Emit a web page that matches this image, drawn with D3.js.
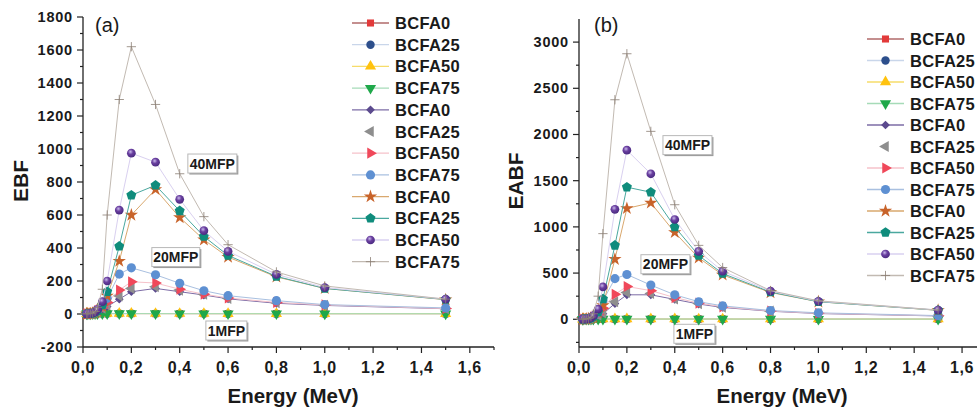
<!DOCTYPE html>
<html>
<head>
<meta charset="utf-8">
<script src="https://cdn.jsdelivr.net/npm/d3@7"></script>
<style>
  body { margin: 0; background: #fff; }
  svg { display: block; font-family: Arial, "Liberation Sans", sans-serif; }
</style>
</head>
<body>
<svg id="chart" width="977" height="412"></svg>
<script>
// photon energies (MeV)
const energy = [0.015, 0.02, 0.03, 0.04, 0.05, 0.06, 0.08, 0.1, 0.15, 0.2, 0.3, 0.4, 0.5, 0.6, 0.8, 1.0, 1.5]

const seriesNames = ['BCFA0', 'BCFA25', 'BCFA50', 'BCFA75',
  'BCFA0', 'BCFA25', 'BCFA50', 'BCFA75',
  'BCFA0', 'BCFA25', 'BCFA50', 'BCFA75']

// (a) EBF
const ebf1mfp0  = [1.2, 1.3, 1.5, 1.8, 2.0, 2.2, 2.4, 2.5, 2.5, 2.4, 2.3, 2.2, 2.1, 2.0, 1.9, 1.9, 1.8]
const ebf1mfp25 = [1.2, 1.3, 1.6, 1.9, 2.1, 2.3, 2.5, 2.6, 2.6, 2.5, 2.4, 2.3, 2.2, 2.1, 2.0, 1.9, 1.8]
const ebf1mfp50 = [1.2, 1.3, 1.6, 1.9, 2.2, 2.4, 2.6, 2.7, 2.7, 2.6, 2.4, 2.3, 2.2, 2.1, 2.0, 1.9, 1.8]
const ebf1mfp75 = [1.2, 1.4, 1.7, 2.0, 2.3, 2.5, 2.7, 2.8, 2.8, 2.7, 2.5, 2.4, 2.3, 2.2, 2.0, 1.9, 1.8]
const ebf20mfp0  = [1.1, 1.3, 2, 4, 8, 15, 30, 45, 90, 135, 155, 135, 115, 92, 65, 52, 32]
const ebf20mfp25 = [1.1, 1.3, 2, 4, 9, 17, 35, 55, 110, 155, 165, 145, 120, 95, 68, 52, 32]
const ebf20mfp50 = [1.1, 1.3, 2, 5, 10, 20, 40, 70, 145, 195, 188, 150, 120, 97, 70, 55, 33]
const ebf20mfp75 = [1.1, 1.4, 2, 5, 11, 22, 50, 95, 242, 280, 238, 186, 141, 111, 81, 57, 37]
const ebf40mfp0  = [1.1, 1.3, 2, 4, 9, 18, 45, 110, 320, 600, 755, 585, 450, 345, 225, 155, 87]
const ebf40mfp25 = [1.1, 1.3, 2, 5, 10, 20, 55, 135, 410, 720, 780, 625, 470, 355, 228, 155, 88]
const ebf40mfp50 = [1.1, 1.4, 3, 6, 12, 28, 75, 200, 630, 975, 920, 695, 505, 380, 240, 160, 90]
const ebf40mfp75 = [1.2, 1.5, 3, 7, 15, 40, 150, 600, 1300, 1620, 1270, 850, 590, 420, 255, 170, 90]

// (b) EABF
const eabf1mfp0  = [1.1, 1.2, 1.4, 1.6, 1.8, 2.0, 2.2, 2.4, 2.5, 2.4, 2.3, 2.2, 2.1, 2.0, 1.9, 1.8, 1.7]
const eabf1mfp25 = [1.1, 1.2, 1.5, 1.7, 1.9, 2.1, 2.3, 2.5, 2.6, 2.5, 2.4, 2.3, 2.2, 2.1, 1.9, 1.8, 1.7]
const eabf1mfp50 = [1.1, 1.3, 1.5, 1.8, 2.0, 2.2, 2.4, 2.6, 2.7, 2.6, 2.4, 2.3, 2.2, 2.1, 2.0, 1.9, 1.7]
const eabf1mfp75 = [1.1, 1.3, 1.6, 1.9, 2.1, 2.3, 2.5, 2.7, 2.8, 2.7, 2.5, 2.4, 2.3, 2.2, 2.0, 1.9, 1.8]
const eabf20mfp0  = [1.1, 1.3, 2, 5, 10, 20, 40, 60, 170, 265, 265, 215, 165, 128, 87, 62, 36]
const eabf20mfp25 = [1.1, 1.3, 2, 5, 11, 22, 45, 70, 190, 290, 280, 220, 170, 130, 88, 63, 37]
const eabf20mfp50 = [1.1, 1.4, 2, 6, 12, 25, 55, 120, 270, 355, 310, 235, 175, 135, 90, 65, 38]
const eabf20mfp75 = [1.1, 1.4, 3, 6, 13, 28, 70, 200, 440, 485, 370, 265, 190, 145, 95, 70, 40]
const eabf40mfp0  = [1.1, 1.3, 2, 5, 12, 25, 70, 150, 650, 1200, 1260, 940, 665, 480, 290, 190, 97]
const eabf40mfp25 = [1.1, 1.4, 3, 6, 14, 30, 80, 220, 800, 1430, 1375, 1000, 690, 495, 295, 190, 98]
const eabf40mfp50 = [1.2, 1.5, 3, 8, 18, 40, 110, 350, 1190, 1830, 1575, 1080, 735, 520, 305, 195, 100]
const eabf40mfp75 = [1.2, 1.6, 4, 10, 25, 60, 250, 927, 2376, 2874, 2034, 1240, 800, 560, 310, 200, 100]

const groupLabels = ['40MFP', '20MFP', '1MFP']

const markerFill = ['#e23a3a', '#2d4f8c', '#ffc20e', '#1fa84a', '#5b4a8e', '#8e8e8e',
  '#f0485a', '#5e90d2', '#c8632a', '#0f8c7c', '#6a3fa0', '#a09488']
const lineColor = ['#b06a6a', '#c9d6ea', '#f6dc6a', '#a6dbb8', '#7d6ca6', 'none',
  '#f6c2ca', '#a9c0e0', '#d9a86e', '#4aa89f', '#d9d0f0', '#c2bab2']

const symbolPentagon = {
  draw(ctx, size) {
    const r = Math.sqrt(size / 2.378)
    for (let i = 0; i < 5; i++) {
      const a = -Math.PI / 2 + i * 2 * Math.PI / 5
      if (i === 0) ctx.moveTo(r * Math.cos(a), r * Math.sin(a))
      else ctx.lineTo(r * Math.cos(a), r * Math.sin(a))
    }
    ctx.closePath()
  }
}

// symbol type, size, rotation
const markers = [
  [d3.symbolSquare, 50, 0],
  [d3.symbolCircle, 56, 0],
  [d3.symbolTriangle, 54, 0],
  [d3.symbolTriangle, 54, 180],
  [d3.symbolSquare, 38, 45],
  [d3.symbolTriangle, 54, -90],
  [d3.symbolTriangle, 54, 90],
  [d3.symbolCircle, 66, 0],
  [d3.symbolStar, 55, 0],
  [symbolPentagon, 66, 0],
  [d3.symbolCircle, 60, 0],
  [d3.symbolPlus, 30, 0],
]

const svg = d3.select('#chart')
const defs = svg.append('defs')
const grad = defs.append('radialGradient').attr('id', 'sphere')
  .attr('cx', '40%').attr('cy', '35%').attr('r', '65%')
grad.append('stop').attr('offset', '0%').attr('stop-color', '#c8b8ea')
grad.append('stop').attr('offset', '45%').attr('stop-color', '#6a3fa0')
grad.append('stop').attr('offset', '100%').attr('stop-color', '#4a2a80')

function drawMarker(g, i, x, y) {
  const [type, size, rot] = markers[i]
  const p = g.append('path')
    .attr('d', d3.symbol().type(type).size(size)())
    .attr('transform', `translate(${x},${y}) rotate(${rot})`)
  if (i === 11) {
    p.attr('fill', 'none').attr('stroke', '#8a7e74').attr('stroke-width', 0.8)
  } else if (i === 10) {
    p.attr('fill', 'url(#sphere)')
  } else {
    p.attr('fill', markerFill[i])
  }
}

function drawPanel(cfg) {
  const x = d3.scaleLinear().domain([0, 1.7]).range(cfg.xRange)
  const y = d3.scaleLinear().domain(cfg.yDomain).range([347, cfg.yTop])
  const g = svg.append('g')

  // axes
  g.append('line').attr('x1', cfg.xRange[0]).attr('x2', cfg.xRange[1])
    .attr('y1', 347).attr('y2', 347).attr('stroke', '#222').attr('stroke-width', 1.3)
  g.append('line').attr('x1', cfg.xRange[0]).attr('x2', cfg.xRange[0])
    .attr('y1', 347).attr('y2', cfg.yTop).attr('stroke', '#222').attr('stroke-width', 1.3)

  const xMajor = d3.range(0, 1.61, 0.2)
  const xMinor = d3.range(0.1, 1.71, 0.2)
  g.selectAll(null).data(xMajor).enter().append('line')
    .attr('x1', d => x(d)).attr('x2', d => x(d)).attr('y1', 347).attr('y2', 353)
    .attr('stroke', '#222').attr('stroke-width', 1.2)
  g.selectAll(null).data(xMinor).enter().append('line')
    .attr('x1', d => x(d)).attr('x2', d => x(d)).attr('y1', 347).attr('y2', 350)
    .attr('stroke', '#222').attr('stroke-width', 1.2)
  g.selectAll(null).data(xMajor).enter().append('text')
    .attr('x', d => x(d)).attr('y', 373).attr('text-anchor', 'middle')
    .attr('font-size', 16).attr('font-weight', 'bold').attr('letter-spacing', 0.6).attr('fill', '#1a1a1a')
    .text(d => d3.format('.1f')(d).replace('.', ','))

  const yStart = Math.ceil(cfg.yDomain[0] / cfg.yStep) * cfg.yStep
  const yMajor = d3.range(yStart, cfg.yMax + 1, cfg.yStep)
  const yMinor = d3.range(yStart - cfg.yStep / 2, cfg.yDomain[1], cfg.yStep)
    .filter(d => d >= cfg.yDomain[0])
  g.selectAll(null).data(yMajor).enter().append('line')
    .attr('x1', cfg.xRange[0] - 6).attr('x2', cfg.xRange[0]).attr('y1', d => y(d)).attr('y2', d => y(d))
    .attr('stroke', '#222').attr('stroke-width', 1.2)
  g.selectAll(null).data(yMinor).enter().append('line')
    .attr('x1', cfg.xRange[0] - 3).attr('x2', cfg.xRange[0]).attr('y1', d => y(d)).attr('y2', d => y(d))
    .attr('stroke', '#222').attr('stroke-width', 1.2)
  g.selectAll(null).data(yMajor).enter().append('text')
    .attr('x', cfg.xRange[0] - 10).attr('y', d => y(d) + 5).attr('text-anchor', 'end')
    .attr('font-size', 14.5).attr('font-weight', 'bold').attr('letter-spacing', 0.8).attr('fill', '#1a1a1a')
    .text(d => d)

  // titles
  g.append('text').attr('transform', `translate(${cfg.yTitleX},181) rotate(-90)`)
    .attr('text-anchor', 'middle').attr('font-size', 21).attr('font-weight', 'bold').attr('fill', '#1a1a1a')
    .text(cfg.yTitle)
  g.append('text').attr('x', cfg.xTitleX).attr('y', 403).attr('text-anchor', 'middle')
    .attr('font-size', 20.5).attr('font-weight', 'bold').attr('fill', '#1a1a1a')
    .text('Energy (MeV)')
  g.append('text').attr('x', cfg.tagX).attr('y', 32)
    .attr('font-size', 20).attr('fill', '#1a1a1a').text(cfg.tag)

  // annotation boxes
  cfg.notes.forEach((n, k) => {
    const cx = x(n[0]), cy = y(n[1]), w = n[2], h = 19
    g.append('rect').attr('x', cx - w / 2 + 1.5).attr('y', cy - h / 2 + 1.5).attr('width', w).attr('height', h)
      .attr('fill', '#9a9a9a')
    g.append('rect').attr('x', cx - w / 2).attr('y', cy - h / 2).attr('width', w).attr('height', h)
      .attr('fill', '#fff').attr('stroke', '#b8b8b8').attr('stroke-width', 1)
    g.append('text').attr('x', cx).attr('y', cy + 5).attr('text-anchor', 'middle')
      .attr('font-size', 14).attr('font-weight', 'bold').attr('fill', '#1a1a1a').text(groupLabels[k])
  })

  // series
  const line = d3.line().x(d => x(d[0])).y(d => y(d[1]))
  cfg.series.forEach((vals, i) => {
    const pts = energy.map((e, j) => [e, vals[j]])
    if (lineColor[i] !== 'none') {
      g.append('path').datum(pts).attr('d', line).attr('fill', 'none')
        .attr('stroke', lineColor[i]).attr('stroke-width', 1)
    }
    const mg = g.append('g')
    pts.forEach(p => drawMarker(mg, i, x(p[0]), y(p[1])))
  })

  // legend
  const lg = g.append('g')
  seriesNames.forEach((name, i) => {
    const ly = cfg.legY + i * cfg.legStep
    if (lineColor[i] !== 'none') {
      lg.append('line').attr('x1', cfg.legX).attr('x2', cfg.legX + 37).attr('y1', ly).attr('y2', ly)
        .attr('stroke', lineColor[i]).attr('stroke-width', 1.3)
    }
    drawMarker(lg, i, cfg.legX + 18.5, ly)
    lg.append('text').attr('x', cfg.legX + 43).attr('y', ly + 6)
      .attr('font-size', 16.5).attr('font-weight', 'bold').attr('letter-spacing', 0.3).attr('fill', '#1a1a1a').text(name)
  })
}

drawPanel({
  xRange: [83, 494], yDomain: [-200, 1800], yMax: 1800, yStep: 200, yTop: 17,
  yTitle: 'EBF', yTitleX: 28, xTitleX: 293, tag: '(a)', tagX: 95,
  legX: 352, legY: 23, legStep: 21.7,
  notes: [[0.535, 912, 49], [0.384, 345, 48], [0.593, -100, 41]],
  series: [ebf1mfp0, ebf1mfp25, ebf1mfp50, ebf1mfp75,
    ebf20mfp0, ebf20mfp25, ebf20mfp50, ebf20mfp75,
    ebf40mfp0, ebf40mfp25, ebf40mfp50, ebf40mfp75]
})

drawPanel({
  xRange: [579, 986], yDomain: [-300, 3250], yMax: 3000, yStep: 500, yTop: 19,
  yTitle: 'EABF', yTitleX: 523, xTitleX: 782, tag: '(b)', tagX: 594,
  legX: 867, legY: 39, legStep: 21.5,
  notes: [[0.453, 1885, 49], [0.361, 596, 49], [0.482, -157, 41]],
  series: [eabf1mfp0, eabf1mfp25, eabf1mfp50, eabf1mfp75,
    eabf20mfp0, eabf20mfp25, eabf20mfp50, eabf20mfp75,
    eabf40mfp0, eabf40mfp25, eabf40mfp50, eabf40mfp75]
})
</script>
</body>
</html>
